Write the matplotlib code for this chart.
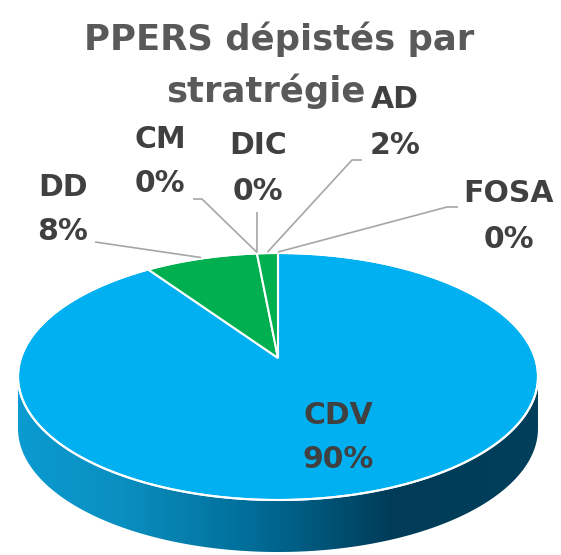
import numpy as np
import matplotlib.pyplot as plt
from matplotlib.patches import Polygon
from matplotlib.colors import LinearSegmentedColormap

# data (share of people screened, per strategy), clockwise from 12 o'clock
categories = ['CDV', 'DD', 'CM', 'DIC', 'AD', 'FOSA']
shares = [90.4, 8.1, 0.0, 0.0, 1.5, 0.0]
title_lines = ['PPERS dépistés par', 'stratrégie']

slice_colors = {'CDV': '#00B0F0', 'DD': '#00B050', 'CM': '#00B050',
                'DIC': '#00B050', 'AD': '#00B050', 'FOSA': '#00B050'}

# pie geometry in pixel coordinates (y grows downwards)
CX, CY, RX, RY = 278.0, 376.5, 260.0, 123.5
TILT = -0.15      # perspective shift of the pie centre
DEPTH = 52.0

# label placement: (x of text centre, y of name, y of percent), leader path
label_pos = {
    'CDV': (338, 415, 460),
    'DD': (63, 187, 231),
    'CM': (160, 140, 184),
    'DIC': (258, 145, 192),
    'AD': (395, 99, 145),
    'FOSA': (509, 194, 240),
}
leaders = {
    'DD': [(95, 242)],
    'CM': [(193, 199), (202, 199)],
    'DIC': [(257, 212)],
    'AD': [(362, 160), (352, 160)],
    'FOSA': [(458, 207), (447, 207)],
}


def to_screen(theta):
    """circle angle (deg, clockwise from top) -> point on the tilted ellipse"""
    t = np.radians(theta)
    u, v = np.sin(t), -np.cos(t)
    d = 1 + TILT * v
    up = u * np.sqrt(1 - TILT ** 2) / d
    vp = (v + TILT) / d
    return CX + RX * up, CY + RY * vp


apex = (CX, CY + RY * TILT)

fig = plt.figure(figsize=(5.61, 5.55), dpi=100)
ax = fig.add_axes([0, 0, 1, 1])
ax.set_xlim(0, 561)
ax.set_ylim(555, 0)
ax.axis('off')

# side wall with horizontal shading
phi = np.linspace(0, np.pi, 200)
top_x = CX + RX * np.cos(phi)
top_y = CY + RY * np.sin(phi)
side = np.vstack([np.column_stack([top_x, top_y]),
                  np.column_stack([top_x[::-1], top_y[::-1] + DEPTH])])
side_patch = Polygon(side, closed=True, facecolor='none', edgecolor='none')
ax.add_patch(side_patch)
side_cmap = LinearSegmentedColormap.from_list(
    'side', [(0, '#0a9bd0'), (0.2, '#0a8fc0'), (0.45, '#006d98'),
             (0.72, '#003c58'), (1.0, '#003f5a')])
grad = np.linspace(0, 1, 256).reshape(1, -1)
img = ax.imshow(grad, cmap=side_cmap, aspect='auto',
                extent=(CX - RX, CX + RX, CY + RY + DEPTH + 2, CY - 2), zorder=1)
img.set_clip_path(side_patch)

# top face
total = sum(shares)
start = 0.0
mids = {}
for cat, val in zip(categories, shares):
    span = 360.0 * val / total
    mids[cat] = start + span / 2
    if span > 0:
        th = np.linspace(start, start + span, max(int(span * 2), 2))
        xs, ys = to_screen(th)
        pts = np.vstack([[apex], np.column_stack([xs, ys])])
        ax.add_patch(Polygon(pts, closed=True, facecolor=slice_colors[cat],
                             edgecolor='white', linewidth=1.5, zorder=2))
    start += span

# white rim between top face and side
rim = np.linspace(0, 360, 400)
rx_, ry_ = to_screen(rim)
ax.plot(rx_, ry_, color='white', linewidth=1.5, zorder=3)

# leader lines
for cat, path in leaders.items():
    ex, ey = to_screen(mids[cat])
    pts = path + [(ex, ey - 1)]
    ax.plot([p[0] for p in pts], [p[1] for p in pts], color='#a6a6a6',
            linewidth=1.2, zorder=4, solid_capstyle='butt')

# data labels
font = dict(family='DejaVu Sans', fontweight='bold', fontsize=21.5, color='#404040')
for cat, val in zip(categories, shares):
    x, y1, y2 = label_pos[cat]
    ax.text(x, y1, cat, ha='center', va='center', zorder=5, **font)
    ax.text(x, y2, f'{round(val)}%', ha='center', va='center', zorder=5, **font)

# title
tfont = dict(family='DejaVu Sans', fontweight='bold', fontsize=25.5, color='#595959')
ax.text(279, 50, title_lines[0], ha='center', va='baseline', **tfont)
ax.text(266, 102, title_lines[1], ha='center', va='baseline', **tfont)

fig.savefig('out.png', dpi=100)
